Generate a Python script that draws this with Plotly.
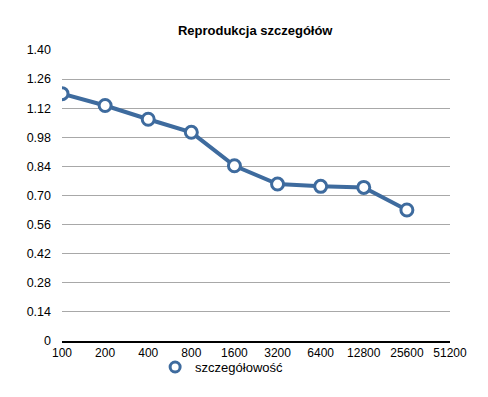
import plotly.graph_objects as go

categories = ["100", "200", "400", "800", "1600", "3200", "6400", "12800", "25600", "51200"]
values = [1.19, 1.133, 1.067, 1.004, 0.843, 0.755, 0.744, 0.739, 0.630]
y_ticks = [0, 0.14, 0.28, 0.42, 0.56, 0.70, 0.84, 0.98, 1.12, 1.26, 1.40]
y_tick_labels = ["0", "0.14", "0.28", "0.42", "0.56", "0.70", "0.84", "0.98", "1.12", "1.26", "1.40"]
series_name = "szczegółowość"

color = "#3E6B9E"
font = "Liberation Sans, Arial, Helvetica, sans-serif"

fig = go.Figure()
fig.add_trace(go.Scatter(
    x=list(range(len(values))),
    y=values,
    mode="lines+markers",
    name=series_name,
    showlegend=False,
    line=dict(color=color, width=4),
    marker=dict(symbol="circle", size=12, color="white", line=dict(color=color, width=3)),
))
# legend entry: marker only
fig.add_trace(go.Scatter(
    x=[None], y=[None],
    mode="markers",
    name=series_name,
    marker=dict(symbol="circle", size=10, color="white", line=dict(color=color, width=3)),
))

fig.update_layout(
    width=480, height=389,
    margin=dict(l=54, r=38, t=42, b=56),
    paper_bgcolor="white", plot_bgcolor="white",
    font=dict(family=font, size=12, color="black"),
    title=dict(text="<b>Reprodukcja szczegółów</b>", x=0.515, xanchor="center",
               y=0.942, yanchor="middle", font=dict(size=13, family=font, color="black")),
    showlegend=True,
    legend=dict(orientation="h", x=0.24, xanchor="left", y=-0.038, yanchor="top",
                font=dict(size=13, family=font), bgcolor="rgba(0,0,0,0)",
                itemwidth=30, tracegroupgap=0),
    xaxis=dict(
        range=[0, len(categories) - 1],
        tickmode="array",
        tickvals=list(range(len(categories))),
        ticktext=categories,
        showgrid=False, zeroline=False,
        showline=True, linecolor="black", linewidth=1.5,
        ticks="", tickfont=dict(size=12, family=font),
        ticklabelstandoff=0,
        automargin=False,
    ),
    yaxis=dict(
        range=[0, 1.40],
        tickmode="array",
        tickvals=y_ticks,
        ticktext=y_tick_labels,
        showgrid=True, gridcolor="#A8A8A8", gridwidth=1,
        zeroline=False, showline=False, ticks="",
        tickfont=dict(size=12.5, family=font),
        ticklabelstandoff=10,
        automargin=False,
    ),
)

fig.write_html("out.html")
